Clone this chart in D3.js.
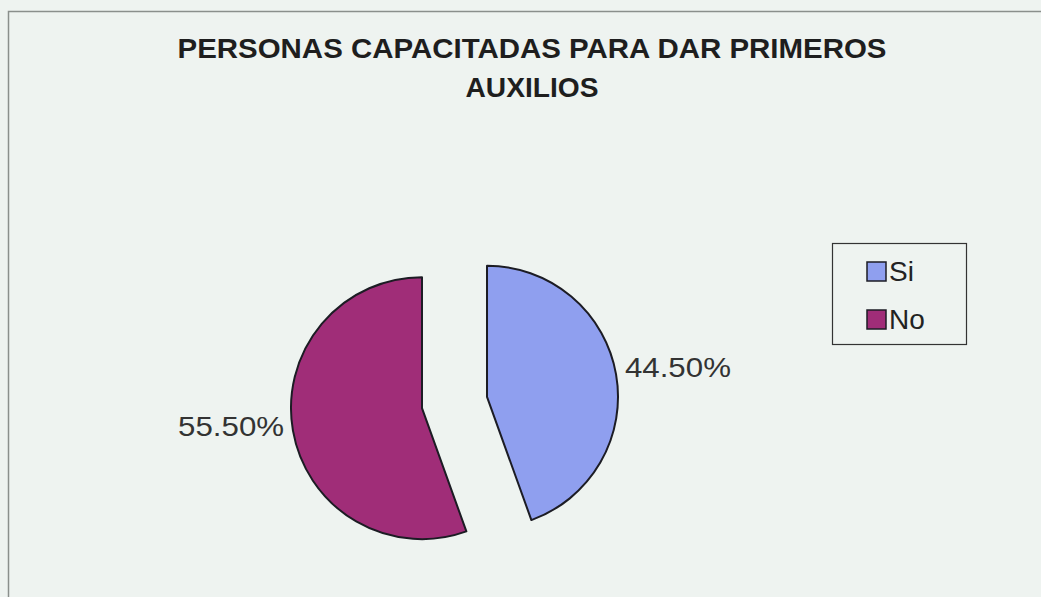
<!DOCTYPE html>
<html>
<head>
<meta charset="utf-8">
<script src="https://cdn.jsdelivr.net/npm/d3@7"></script>
<style>
  body { margin: 0; background: #eef3f0; }
  svg { display: block; font-family: Arial, "Liberation Sans", Helvetica, sans-serif; }
</style>
</head>
<body>
<svg id="chart" width="1041" height="597"></svg>
<script>
// data
const categories = ["Si", "No"];
const values = [44.5, 55.5];
const labels = ["44.50%", "55.50%"];
const colors = ["#8f9fef", "#a02d78"];
const titleLines = ["PERSONAS CAPACITADAS PARA DAR PRIMEROS", "AUXILIOS"];

const svg = d3.select("#chart");
const width = +svg.attr("width");
const height = +svg.attr("height");

// chart frame (right and bottom edges run off the page)
svg.append("rect")
    .attr("x", 8.5).attr("y", 11.5)
    .attr("width", width + 20).attr("height", height + 20)
    .attr("fill", "none")
    .attr("stroke", "#8a8f8c")
    .attr("stroke-width", 1.5);

// title (the scan is a little wider than the font, so stretch to fit)
const titleWidths = [709, 133];
svg.append("g").selectAll("text")
    .data(titleLines)
    .join("text")
    .attr("x", 532)
    .attr("y", (d, i) => 58 + i * 39)
    .attr("text-anchor", "middle")
    .attr("font-size", 28)
    .attr("font-weight", "bold")
    .attr("fill", "#1e1e1e")
    .attr("textLength", (d, i) => titleWidths[i])
    .attr("lengthAdjust", "spacingAndGlyphs")
    .text(d => d);

// pie, exploded
const cx = 454.5, cy = 402.5;
const radius = 131;
const explode = 33;

const pie = d3.pie().sort(null).value(d => d)(values);
const arc = d3.arc().innerRadius(0).outerRadius(radius);

const slices = svg.append("g")
    .attr("transform", `translate(${cx},${cy})`);

slices.selectAll("path")
    .data(pie)
    .join("path")
    .attr("transform", d => {
        const a = (d.startAngle + d.endAngle) / 2;
        return `translate(${explode * Math.sin(a)},${-explode * Math.cos(a)})`;
    })
    .attr("d", arc)
    .attr("fill", (d, i) => colors[i])
    .attr("stroke", "#1c1c24")
    .attr("stroke-width", 2)
    .attr("stroke-linejoin", "round");

// percent labels just outside each slice
slices.selectAll("text")
    .data(pie)
    .join("text")
    .attr("x", d => {
        const a = (d.startAngle + d.endAngle) / 2;
        return (explode + radius + 9) * Math.sin(a);
    })
    .attr("y", d => {
        const a = (d.startAngle + d.endAngle) / 2;
        return -(explode + radius + 9) * Math.cos(a) + 4;
    })
    .attr("text-anchor", d => Math.sin((d.startAngle + d.endAngle) / 2) > 0 ? "start" : "end")
    .attr("font-size", 28)
    .attr("fill", "#333")
    .attr("textLength", 106)
    .attr("lengthAdjust", "spacingAndGlyphs")
    .text((d, i) => labels[i]);

// legend
const legend = svg.append("g");
legend.append("rect")
    .attr("x", 832.5).attr("y", 243.5)
    .attr("width", 134).attr("height", 101)
    .attr("fill", "none")
    .attr("stroke", "#333")
    .attr("stroke-width", 1.2);

const item = legend.selectAll("g.item")
    .data(categories)
    .join("g")
    .attr("class", "item")
    .attr("transform", (d, i) => `translate(867,${262 + i * 48})`);

item.append("rect")
    .attr("width", 19).attr("height", 19)
    .attr("fill", (d, i) => colors[i])
    .attr("stroke", "#1c1c24")
    .attr("stroke-width", 1.5);

item.append("text")
    .attr("x", 22)
    .attr("y", 19)
    .attr("font-size", 28)
    .attr("fill", "#222")
    .text(d => d);
</script>
</body>
</html>
